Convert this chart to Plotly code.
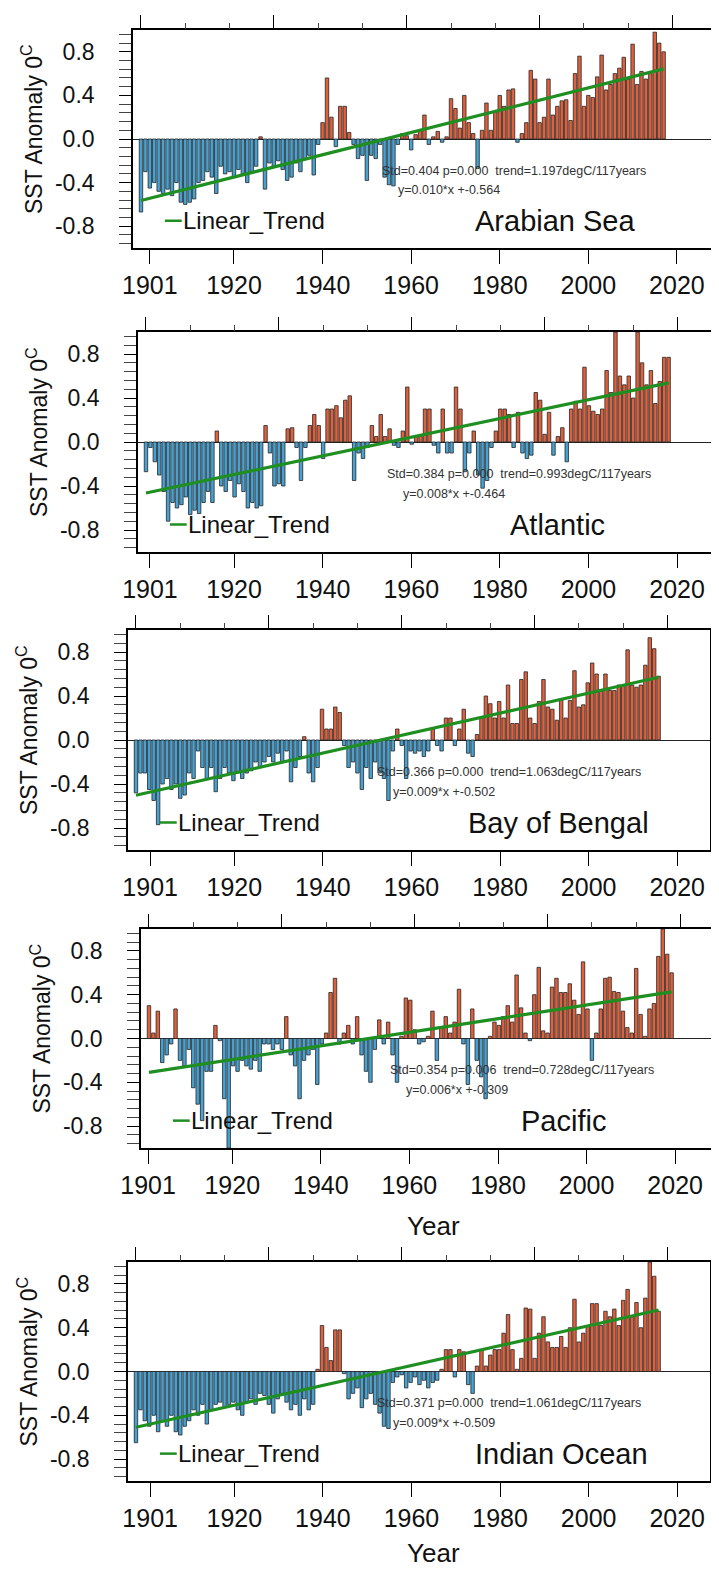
import plotly.graph_objects as go

W, H = 719, 1571
years = list(range(1901, 2020))

arabian_sea = [
    -0.67, -0.30, -0.45, -0.40, -0.48, -0.50, -0.46, -0.52, -0.40, -0.58,
    -0.60, -0.58, -0.55, -0.40, -0.38, -0.30, -0.35, -0.50, -0.25, -0.32,
    -0.30, -0.35, -0.28, -0.32, -0.40, -0.30, -0.25, 0.02, -0.46, -0.22,
    -0.25, -0.20, -0.28, -0.38, -0.35, -0.22, -0.30, -0.18, -0.15, -0.33,
    -0.05, 0.15, 0.56, 0.20, -0.07, 0.30, 0.30, 0.06, -0.05, -0.18,
    -0.15, -0.38, -0.15, -0.18, -0.05, -0.35, -0.42, -0.43, -0.05, 0.05,
    0.03, -0.10, 0.04, 0.08, 0.22, -0.05, 0.02, 0.07, -0.03, 0.02,
    0.37, 0.28, 0.10, 0.40, 0.15, 0.05, -0.27, 0.08, 0.33, 0.08,
    0.25, 0.40, 0.30, 0.45, 0.46, -0.03, 0.05, 0.15, 0.63, 0.55,
    0.15, 0.20, 0.55, 0.22, 0.30, 0.35, 0.36, 0.17, 0.60, 0.76,
    0.30, 0.40, 0.38, 0.57, 0.77, 0.45, 0.50, 0.60, 0.65, 0.75,
    0.55, 0.87, 0.50, 0.62, 0.55, 0.60, 0.98, 0.88, 0.80,
]
atlantic = [
    -0.27, -0.05, -0.18, -0.30, -0.45, -0.72, -0.55, -0.60, -0.57, -0.50,
    -0.66, -0.62, -0.65, -0.55, -0.45, -0.55, 0.10, -0.40, -0.45, -0.35,
    -0.50, -0.38, -0.45, -0.60, -0.55, -0.60, -0.58, 0.15, -0.10, -0.40,
    -0.38, -0.40, 0.12, 0.13, -0.05, -0.35, -0.05, 0.15, 0.25, 0.15,
    -0.15, 0.30, 0.30, 0.33, 0.22, 0.38, 0.42, -0.35, -0.10, -0.15,
    -0.05, 0.15, 0.05, 0.25, 0.05, 0.12, -0.03, -0.05, 0.10, 0.50,
    -0.02, 0.05, 0.05, 0.30, 0.30, -0.03, -0.10, 0.30, -0.10, -0.10,
    0.50, 0.30, -0.27, -0.10, 0.10, -0.30, -0.42, -0.35, -0.05, 0.10,
    0.30, 0.30, 0.25, -0.05, 0.27, -0.10, -0.15, -0.12, 0.45, 0.38,
    0.07, 0.27, -0.12, 0.05, 0.13, -0.18, 0.30, 0.37, 0.30, 0.68,
    0.33, 0.28, 0.25, 0.30, 0.65, 0.45, 1.00, 0.60, 0.52, 0.60,
    0.40, 1.00, 0.72, 0.52, 0.65, 0.35, 0.55, 0.77, 0.77,
]
bay_of_bengal = [
    -0.48, -0.30, -0.30, -0.45, -0.55, -0.77, -0.40, -0.35, -0.45, -0.40,
    -0.53, -0.50, -0.30, -0.35, -0.10, -0.25, -0.35, -0.25, -0.47, -0.35,
    -0.25, -0.30, -0.37, -0.30, -0.35, -0.30, -0.28, -0.20, -0.25, -0.20,
    -0.15, -0.20, -0.12, -0.20, -0.10, -0.38, -0.25, -0.15, 0.03, -0.30,
    -0.38, -0.25, 0.28, 0.10, 0.10, 0.30, 0.25, -0.05, -0.25, -0.20,
    -0.30, -0.45, -0.25, -0.35, -0.20, -0.30, -0.35, -0.55, -0.10, 0.10,
    -0.05, -0.35, -0.10, -0.12, -0.10, -0.15, -0.10, 0.10, -0.05, -0.10,
    0.20, 0.20, -0.05, 0.10, 0.28, -0.12, -0.15, 0.05, 0.20, 0.40,
    0.33, 0.20, 0.35, 0.20, 0.50, 0.15, 0.15, 0.55, 0.62, 0.20,
    0.15, 0.35, 0.55, 0.30, 0.28, 0.18, 0.37, 0.20, 0.36, 0.63,
    0.30, 0.32, 0.52, 0.70, 0.60, 0.45, 0.60, 0.45, 0.45, 0.50,
    0.50, 0.82, 0.50, 0.48, 0.50, 0.68, 0.93, 0.83, 0.58,
]
pacific = [
    0.30, 0.05, 0.25, -0.22, -0.15, -0.05, 0.27, -0.20, -0.25, -0.10,
    -0.45, -0.60, -0.75, -0.30, -0.30, 0.12, -0.02, -0.55, -1.00, -0.25,
    -0.30, -0.20, -0.25, -0.28, -0.20, -0.30, -0.05, -0.05, -0.10, -0.05,
    -0.10, 0.20, -0.15, -0.25, -0.55, -0.20, -0.15, -0.10, -0.42, -0.05,
    0.05, 0.42, 0.55, -0.05, 0.05, 0.12, -0.05, 0.20, -0.15, -0.30,
    -0.40, -0.10, 0.17, -0.05, 0.15, -0.15, -0.40, 0.02, 0.37, 0.35,
    0.08, -0.05, -0.03, 0.02, 0.25, -0.20, 0.10, 0.20, 0.05, 0.15,
    0.45, -0.05, -0.42, 0.27, -0.20, -0.35, -0.55, 0.02, 0.15, 0.12,
    0.20, 0.30, 0.15, 0.58, 0.28, 0.05, -0.02, 0.40, 0.65, 0.07,
    0.05, 0.47, 0.55, 0.42, 0.42, 0.50, 0.35, 0.22, 0.70, 0.27,
    -0.20, 0.05, 0.27, 0.55, 0.56, 0.43, 0.42, 0.25, 0.10, 0.05,
    0.64, 0.22, 0.02, 0.27, 0.32, 0.75, 1.00, 0.77, 0.60,
]
indian_ocean = [
    -0.65, -0.35, -0.45, -0.50, -0.40, -0.55, -0.45, -0.50, -0.40, -0.55,
    -0.58, -0.50, -0.45, -0.35, -0.40, -0.30, -0.48, -0.35, -0.30, -0.28,
    -0.32, -0.30, -0.28, -0.35, -0.40, -0.28, -0.25, -0.30, -0.20, -0.22,
    -0.30, -0.38, -0.25, -0.20, -0.28, -0.35, -0.30, -0.40, -0.25, -0.35,
    -0.30, 0.02, 0.42, 0.22, 0.10, 0.38, 0.38, -0.02, -0.25, -0.20,
    -0.15, -0.33, -0.25, -0.20, -0.30, -0.38, -0.50, -0.52, -0.10, -0.05,
    -0.03, -0.15, -0.10, -0.05, -0.12, -0.08, -0.15, -0.10, -0.08, 0.02,
    0.20, 0.20, -0.05, 0.20, 0.18, -0.12, -0.20, 0.05, 0.20, 0.05,
    0.15, 0.20, 0.20, 0.35, 0.52, 0.20, 0.02, 0.12, 0.58, 0.57,
    0.12, 0.35, 0.50, 0.27, 0.22, 0.22, 0.32, 0.22, 0.40, 0.66,
    0.27, 0.35, 0.42, 0.62, 0.62, 0.42, 0.55, 0.50, 0.57, 0.42,
    0.65, 0.75, 0.50, 0.63, 0.40, 0.67, 1.00, 0.87, 0.55,
]

regions = ["Arabian Sea", "Atlantic", "Bay of Bengal", "Pacific", "Indian Ocean"]
series = [arabian_sea, atlantic, bay_of_bengal, pacific, indian_ocean]
std_vals = ["0.404", "0.384", "0.366", "0.354", "0.371"]
p_vals = ["0.000", "0.000", "0.000", "0.006", "0.000"]
trend_vals = [1.197, 0.993, 1.063, 0.728, 1.061]
slope_txt = ["0.010", "0.008", "0.009", "0.006", "0.009"]
intercepts = [-0.564, -0.464, -0.502, -0.309, -0.509]

x_label_years = [1901, 1920, 1940, 1960, 1980, 2000, 2020]
top_tick_years = [1901, 1931, 1961, 1991, 2021]
y_ticks = [-0.8, -0.4, 0.0, 0.4, 0.8]
y_ticktext = ["-0.8", "-0.4", "0.0", "0.4", "0.8"]

# layout (pixels): frame left, right, top, bottom of each panel
frames = [(125, 707, 22, 240), (130, 712, 324, 544), (120, 702, 622, 842),
          (133, 715, 921, 1140), (120, 702, 1254, 1473)]
# the year labels sit slightly right of the bars they name (per panel, in years)
label_shift = [2.0, 0.9, 3.2, -0.2, 3.2]
title_x = [1994.5, 1994.0, 1996.5, 1994.5, 1997.0]
XR = [1899.2, 2030.6]

FONT = "Liberation Sans, Arial, Helvetica, sans-serif"
BLUE = "#45a2d3"
RED = "#e0603b"
GREEN = "#1f8f22"


def px(x):
    return x / W


def py(y):
    return 1 - y / H


fig = go.Figure()
layout = {}
annotations = []
shapes = []

for i in range(5):
    n = i + 1
    xa, ya = f"x{n}", f"y{n}"
    xt = f"x{n + 5}"
    vals = series[i]
    colors = [RED if v >= 0 else BLUE for v in vals]
    fig.add_trace(go.Bar(
        x=years, y=vals, xaxis=xa, yaxis=ya, width=0.78,
        marker=dict(color=colors, line=dict(color="#262626", width=0.8)),
        hoverinfo="skip"))
    slope = trend_vals[i] / 117.0
    tx = [years[0], years[-1]]
    ty = [intercepts[i] + slope * (t - years[0]) for t in tx]
    fig.add_trace(go.Scatter(x=tx, y=ty, mode="lines", xaxis=xa, yaxis=ya,
                             line=dict(color=GREEN, width=3.2), hoverinfo="skip"))
    # invisible trace to activate the top tick axis
    fig.add_trace(go.Scatter(x=[XR[0]], y=[0], mode="markers", xaxis=xt, yaxis=ya,
                             marker=dict(opacity=0, size=1), hoverinfo="skip"))

    l, r, t, b = frames[i]
    dom_x = [px(l), px(r)]
    dom_y = [py(b), py(t)]
    layout[f"xaxis{n}"] = dict(
        domain=dom_x, anchor=ya, range=XR, showgrid=False, zeroline=False,
        automargin=False,
        showline=True, linecolor="black", linewidth=1.6, mirror=True,
        tickmode="array", tickvals=[v + label_shift[i] for v in x_label_years],
        ticktext=[str(v) for v in x_label_years],
        ticks="outside", ticklen=14, tickwidth=1.2, tickcolor="black",
        ticklabelstandoff=0,
        tickfont=dict(family=FONT, size=25, color="#111"))
    layout[f"xaxis{n + 5}"] = dict(
        domain=dom_x, anchor=ya, overlaying=xa, side="top", range=XR,
        automargin=False,
        showgrid=False, zeroline=False, showline=False, showticklabels=False,
        tickmode="array", tickvals=top_tick_years,
        ticks="outside", ticklen=14, tickwidth=1.2, tickcolor="black",
        minor=dict(tickmode="linear", tick0=1901, dtick=10, ticks="outside",
                   ticklen=6, tickwidth=1, tickcolor="#444"))
    layout[f"yaxis{n}"] = dict(
        domain=dom_y, anchor=xa, range=[-1.0, 1.0], showgrid=False,
        automargin=False,
        zeroline=True, zerolinecolor="#222", zerolinewidth=1.2,
        showline=True, linecolor="black", linewidth=1.6, mirror="allticks",
        tickmode="array", tickvals=y_ticks, ticktext=y_ticktext,
        ticks="outside", ticklen=12, tickwidth=1.2, tickcolor="black",
        ticklabelstandoff=20,
        minor=dict(tickmode="linear", tick0=0, dtick=0.08, ticks="outside",
                   ticklen=5, tickwidth=1, tickcolor="#444"),
        tickfont=dict(family=FONT, size=23, color="#111"))

    # y-axis title
    mid_px = (t + b) / 2
    annotations.append(dict(
        x=px(24 + (l - 125)), y=py(mid_px - 10), xref="paper", yref="paper",
        text="SST Anomaly 0<sup>C</sup>", textangle=-90, showarrow=False,
        xanchor="center", yanchor="middle",
        font=dict(family=FONT, size=23, color="#111")))
    # statistics text
    annotations.append(dict(
        x=1955.0, y=-0.29, xref=xa, yref=ya, xanchor="left", yanchor="middle",
        showarrow=False,
        text=f"Std={std_vals[i]} p={p_vals[i]} &nbsp;trend={trend_vals[i]:.3f}degC/117years",
        font=dict(family=FONT, size=12.5, color="#333")))
    annotations.append(dict(
        x=1958.6, y=-0.47, xref=xa, yref=ya, xanchor="left", yanchor="middle",
        showarrow=False,
        text=f"y={slope_txt[i]}*x +{intercepts[i]:.3f}",
        font=dict(family=FONT, size=12.5, color="#333")))
    # legend: short green line + label
    shapes.append(dict(type="line", xref=xa, yref=ya, x0=1906.4, x1=1910.2,
                       y0=-0.75, y1=-0.75, line=dict(color=GREEN, width=2.5)))
    annotations.append(dict(
        x=1910.0, y=-0.75, xref=xa, yref=ya, xanchor="left", yanchor="middle",
        showarrow=False, text="Linear_Trend",
        font=dict(family=FONT, size=24, color="#111")))
    # region title
    annotations.append(dict(
        x=title_x[i], y=-0.75, xref=xa, yref=ya, xanchor="center", yanchor="middle",
        showarrow=False, text=regions[i],
        font=dict(family=FONT, size=29, color="#111")))

for yy in (1218, 1545):
    annotations.append(dict(
        x=px(425), y=py(yy), xref="paper", yref="paper", showarrow=False,
        xanchor="center", yanchor="middle", text="Year",
        font=dict(family=FONT, size=26, color="#111")))

fig.update_layout(
    width=W, height=H, margin=dict(l=0, r=0, t=0, b=0),
    paper_bgcolor="white", plot_bgcolor="white", showlegend=False,
    bargap=0.25, annotations=annotations, shapes=shapes, **layout)

fig.write_html("out.html")
